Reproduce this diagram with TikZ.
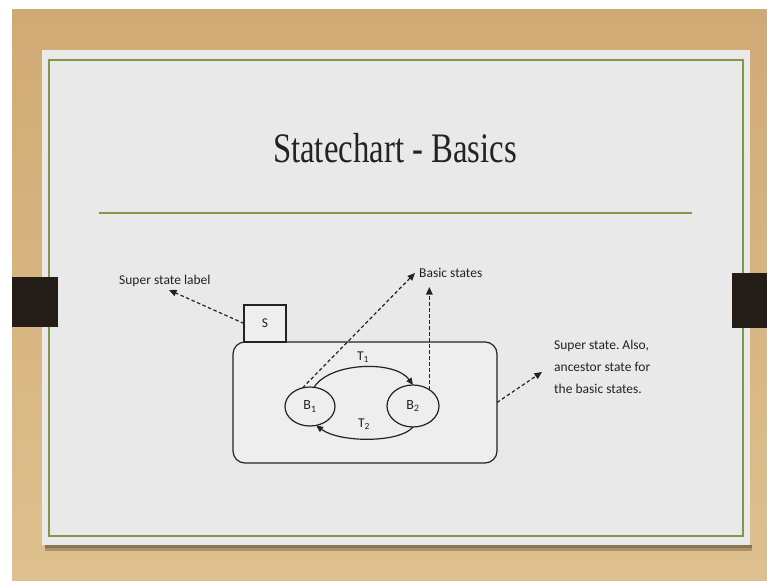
\documentclass[tikz,border=0pt]{standalone}
\usepackage{fontspec}
\setmainfont{Carlito}
\newfontfamily\titlefont[FakeStretch=0.78]{Liberation Serif}
\usetikzlibrary{arrows.meta,shapes.geometric}
\definecolor{woodA}{RGB}{208,170,116}
\definecolor{woodB}{RGB}{222,192,142}
\definecolor{paperc}{RGB}{233,233,233}
\definecolor{boxc}{RGB}{238,238,238}
\definecolor{olive}{RGB}{128,152,72}
\definecolor{ink}{RGB}{35,35,35}
\definecolor{tabc}{RGB}{36,28,22}
\tikzset{
  lbl/.style={font=\fontsize{13.5}{22}\selectfont, text=ink, inner sep=0pt},
  statebox/.style={draw=ink, line width=1.2pt, fill=boxc, inner sep=0pt, outer sep=0pt},
  bstate/.style={ellipse, draw=ink, line width=1.2pt, fill=boxc, inner sep=0pt, outer sep=0pt, font=\fontsize{14}{14}\selectfont, text=ink},
  trans/.style={draw=ink, line width=1.2pt, -{Triangle[length=7pt,width=6pt]}},
  pointer/.style={draw=ink, line width=1.2pt, dash pattern=on 3.5pt off 2.5pt, -{Triangle[length=7.5pt,width=6.5pt]}}
}
\begin{document}
\frenchspacing
\begin{tikzpicture}[x=1pt,y=-1pt]
\useasboundingbox (0,0) rectangle (767,580);
% background
\fill[white] (0,0) rectangle (767,580);
\shade[top color=woodA, bottom color=woodB] (12,10) rectangle (767,580);
% paper shadow
\fill[black!40!woodA, opacity=0.5] (45,545) rectangle (752,551);
\fill[black!50!woodA, opacity=0.5] (45,545) rectangle (752,548);
\fill[paperc] (42,50) rectangle (750,545);
\draw[olive, line width=1.8pt] (49,60) rectangle (743,536);
% tabs
\fill[tabc] (12,277) rectangle (58,327);
\fill[tabc] (732,273) rectangle (767,328);
% title
\node[font=\titlefont\fontsize{42}{42}\selectfont, anchor=base, text=ink, inner sep=0pt] (title) at (395,163) {Statechart - Basics};
\draw[olive, line width=2pt] (99,213) -- (692,213);
% diagram
\node[statebox, rounded corners=12pt, minimum width=264pt, minimum height=121pt] (SS) at (365,402.5) {};
\node[statebox, minimum width=42pt, minimum height=37pt, lbl] (S) at (265,323.5) {S};
\node[bstate, minimum width=50pt, minimum height=39pt] (B1) at (310,406.5) {B\textsubscript{1}};
\node[bstate, minimum width=52pt, minimum height=42pt] (B2) at (413,406) {B\textsubscript{2}};
\draw[trans] (B1.78) .. controls (330,362) and (395,360) .. (B2.north);
\draw[trans] (B2.south) .. controls (400,443) and (340,443) .. (B1.-72);
\node[lbl] (T1) at (363,357) {T\textsubscript{1}};
\node[lbl] (T2) at (364,424) {T\textsubscript{2}};
% labels
\node[lbl, anchor=base west] (LSL) at (119,284) {Super state label};
\node[lbl, anchor=base west] (LBS) at (419,277) {Basic states};
\node[lbl, anchor=north west, align=left] (LSS) at (554,340) {Super state. Also,\\ancestor state for\\the basic states.};
\coordinate (tipSL) at (169,290);
\coordinate (tipBS1) at (415,273);
\coordinate (tipBS2) at (429,287);
\coordinate (tipSS) at (542,372);
\draw[pointer] (S.west) -- (tipSL);
\draw[pointer] (B1.112) -- (tipBS1);
\draw[pointer] (B2.45) -- (B2.45 |- tipBS2);
\draw[pointer] (SS.east) -- (tipSS);
\end{tikzpicture}
\end{document}
